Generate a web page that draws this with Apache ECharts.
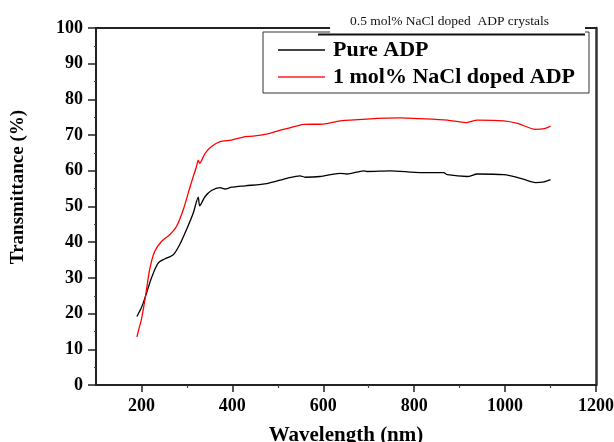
<!DOCTYPE html>
<html>
<head>
<meta charset="utf-8">
<script src="https://cdn.jsdelivr.net/npm/echarts@6/dist/echarts.min.js"></script>
<style>
  html, body { margin: 0; padding: 0; background: #fff; }
  #chart { width: 614px; height: 442px; }
</style>
</head>
<body>
<div id="chart"></div>
<script>
// values
const pureWl = [190, 200, 209, 222, 237, 251, 270, 284, 299, 314, 325, 328, 340, 354, 373, 384, 398, 428, 476, 520, 549, 560, 593, 637, 652, 689, 696, 747, 814, 865, 873, 917, 939, 997, 1034, 1067, 1086, 1100];
const pureT = [19.2, 21.7, 24.9, 30.0, 34.2, 35.3, 36.5, 39.3, 43.5, 48.2, 52.6, 50.2, 52.8, 54.5, 55.3, 54.9, 55.4, 55.8, 56.4, 57.9, 58.6, 58.2, 58.4, 59.3, 59.1, 60.0, 59.8, 60.0, 59.5, 59.5, 58.9, 58.4, 59.1, 58.9, 57.9, 56.7, 56.9, 57.5];

const dopedWl = [190, 196, 200, 209, 218, 229, 244, 262, 277, 292, 306, 314, 321, 325, 328, 340, 354, 373, 398, 428, 446, 483, 512, 549, 556, 600, 637, 696, 770, 813, 873, 913, 939, 997, 1027, 1067, 1086, 1100];
const dopedT = [13.5, 16.5, 18.4, 24.9, 32.3, 37.4, 40.2, 42.1, 44.4, 49.1, 55.1, 58.4, 61.2, 63.0, 62.1, 64.9, 66.8, 68.2, 68.6, 69.6, 69.7, 70.5, 71.6, 72.8, 73.0, 73.1, 74.0, 74.5, 74.8, 74.6, 74.2, 73.5, 74.2, 74.0, 73.3, 71.6, 71.8, 72.5];

const xMajorTicks = [200, 400, 600, 800, 1000, 1200];
const xMinorTicks = [300, 500, 700, 900, 1100];

const seriesNames = ['Pure ADP', '1 mol% NaCl doped ADP'];
const chartTitle = '0.5 mol% NaCl doped  ADP crystals';
const xName = 'Wavelength (nm)';
const yName = 'Transmittance (%)';

const serif = '"Liberation Serif", "Times New Roman", serif';
const zip = (xs, ys) => xs.map((x, i) => [x, ys[i]]);

const frameAxis = (extra) => ({
    type: 'value',
    axisTick: { show: false },
    axisLabel: { show: false },
    splitLine: { show: false },
    ...extra
});

const chart = echarts.init(document.getElementById('chart'));
chart.setOption({
    animation: false,
    backgroundColor: '#fff',
    grid: { left: 96, right: 18, top: 28, bottom: 57, outerBoundsMode: 'none', containLabel: false },
    legend: {
        orient: 'vertical',
        left: 263,
        top: 32,
        padding: [7, 14, 5, 15],
        itemGap: 5,
        itemWidth: 47,
        itemHeight: 2,
        icon: 'rect',
        borderColor: '#333',
        borderWidth: 1,
        textStyle: { fontFamily: serif, fontWeight: 'bold', fontSize: 22, color: '#000', padding: [0, 0, 0, 3] },
        data: [
            { name: seriesNames[0], itemStyle: { color: '#444' } },
            { name: seriesNames[1], itemStyle: { color: '#f55' } }
        ]
    },
    xAxis: [{
        type: 'value',
        min: 100,
        max: 1200,
        name: xName,
        nameLocation: 'middle',
        nameGap: 40,
        nameTextStyle: { fontFamily: serif, fontWeight: 'bold', fontSize: 21, color: '#000' },
        axisLine: { show: true, onZero: false, lineStyle: { color: '#222', width: 2 } },
        axisTick: { show: true, inside: false, length: 7, customValues: xMajorTicks, lineStyle: { color: '#222', width: 1.5 } },
        axisLabel: {
            margin: 12, fontFamily: serif, fontWeight: 'bold', fontSize: 18, color: '#000',
            customValues: xMajorTicks,
            formatter: v => String(v)
        },
        splitLine: { show: false }
    }, frameAxis({
        position: 'bottom',
        min: 100,
        max: 1200,
        axisLine: { show: false },
        axisTick: { show: true, inside: false, length: 3, customValues: xMinorTicks, lineStyle: { color: '#444', width: 1.2 } }
    }), frameAxis({
        position: 'top',
        min: 100,
        max: 1200,
        axisLine: { show: true, onZero: false, lineStyle: { color: '#222', width: 2 } }
    })],
    yAxis: [{
        type: 'value',
        min: 0,
        max: 100,
        interval: 10,
        axisLine: { show: true, onZero: false, lineStyle: { color: '#222', width: 2 } },
        axisTick: { show: true, inside: false, length: 8, lineStyle: { color: '#222', width: 1.5 } },
        minorTick: { show: true, splitNumber: 2, length: 2, lineStyle: { color: '#444' } },
        axisLabel: { margin: 13, fontFamily: serif, fontWeight: 'bold', fontSize: 18, color: '#000' },
        splitLine: { show: false }
    }, frameAxis({
        position: 'right',
        min: 0,
        max: 100,
        axisLine: { show: true, onZero: false, lineStyle: { color: '#333', width: 2.5 } }
    })],
    series: [
        { name: seriesNames[0], data: zip(pureWl, pureT), color: '#000' },
        { name: seriesNames[1], data: zip(dopedWl, dopedT), color: '#ff0000' }
    ].map(s => ({
        ...s,
        type: 'line',
        xAxisIndex: 0,
        yAxisIndex: 0,
        showSymbol: false,
        smooth: 0.25,
        lineStyle: { width: 1.3 }
    })),
    graphic: [
        { type: 'rect', shape: { x: 330, y: 8, width: 255, height: 26 }, style: { fill: '#fff' }, z: 100 },
        { type: 'line', shape: { x1: 318, y1: 34.5, x2: 585, y2: 34.5 }, style: { stroke: '#111', lineWidth: 2 }, z: 101 },
        {
            type: 'text', left: 350, top: 14, z: 102,
            style: { text: chartTitle, font: '13.5px ' + serif, fill: '#111' }
        },
        {
            type: 'text', x: 18, y: 187, rotation: Math.PI / 2, z: 102,
            style: {
                text: yName, font: 'bold 19px ' + serif, fill: '#000',
                textAlign: 'center', textVerticalAlign: 'middle'
            }
        }
    ]
});
</script>
</body>
</html>
